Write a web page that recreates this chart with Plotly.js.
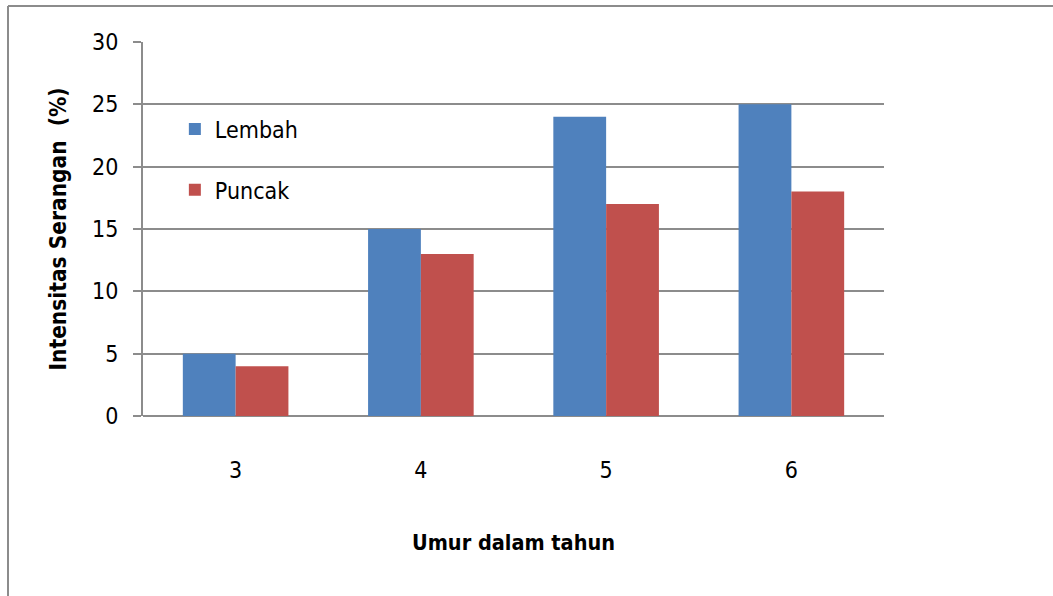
<!DOCTYPE html>
<html><head><meta charset="utf-8">
<script src="https://cdn.plot.ly/plotly-3.0.1.min.js"></script>
<style>html,body{margin:0;padding:0;background:#fff}#c{width:1053px;height:596px}</style>
</head><body><div id="c"></div>
<script>
const categories = ["3", "4", "5", "6"];
const lembah = [5, 15, 24, 25];
const puncak = [4, 13, 17, 18];
const seriesNames = ["Lembah", "Puncak"];
const yTicks = [0, 5, 10, 15, 20, 25, 30];

const font = "DejaVu Sans Condensed, Liberation Sans Narrow, Liberation Sans, sans-serif";
const data = [
  {type: "bar", x: categories, y: lembah, name: seriesNames[0], legendgroup: "a",
   marker: {color: "#4f81bd", line: {width: 0}}},
  {type: "bar", x: categories, y: puncak, name: seriesNames[1], legendgroup: "b",
   marker: {color: "#c0504d", line: {width: 0}}}
];
const layout = {
  width: 1053, height: 596,
  margin: {l: 143, r: 169, t: 42, b: 180},
  paper_bgcolor: "#fff", plot_bgcolor: "#fff",
  barmode: "group", bargap: 0.43, bargroupgap: 0,
  font: {family: font, color: "#000", size: 23},
  xaxis: {type: "category", showgrid: false, zeroline: false, showline: false,
    ticks: "", tickfont: {size: 23}, ticklabelstandoff: 38,
    title: {text: "<b>Umur dalam tahun</b>", font: {size: 21.5}, standoff: 52}},
  yaxis: {range: [0, 30], tickvals: yTicks, showgrid: true, gridcolor: "#8c8c8c", gridwidth: 2,
    zeroline: true, zerolinecolor: "#8c8c8c", zerolinewidth: 2,
    showline: true, linecolor: "#8c8c8c", linewidth: 2,
    ticks: "outside", ticklen: 8, tickcolor: "#8c8c8c", tickwidth: 2,
    tickfont: {size: 23}, ticklabelstandoff: 10,
    title: {text: "<b>Intensitas Serangan  (%)</b>", font: {size: 22.5}, standoff: 19}},
  legend: {x: 0.043, y: 0.825, xanchor: "left", yanchor: "top", bgcolor: "rgba(0,0,0,0)",
    font: {size: 23}, tracegroupgap: 28, itemwidth: 30},
  showlegend: true,
  shapes: [
    {type: "line", xref: "paper", yref: "paper", x0: -135/741, x1: -135/741, y0: 1 + 36/374, y1: -180/374,
     line: {color: "#8c8c8c", width: 2}},
    {type: "line", xref: "paper", yref: "paper", x0: -135/741, x1: 910/741, y0: 1 + 36/374, y1: 1 + 36/374,
     line: {color: "#8c8c8c", width: 2}}
  ]
};
Plotly.newPlot("c", data, layout, {displayModeBar: false});
</script></body></html>
